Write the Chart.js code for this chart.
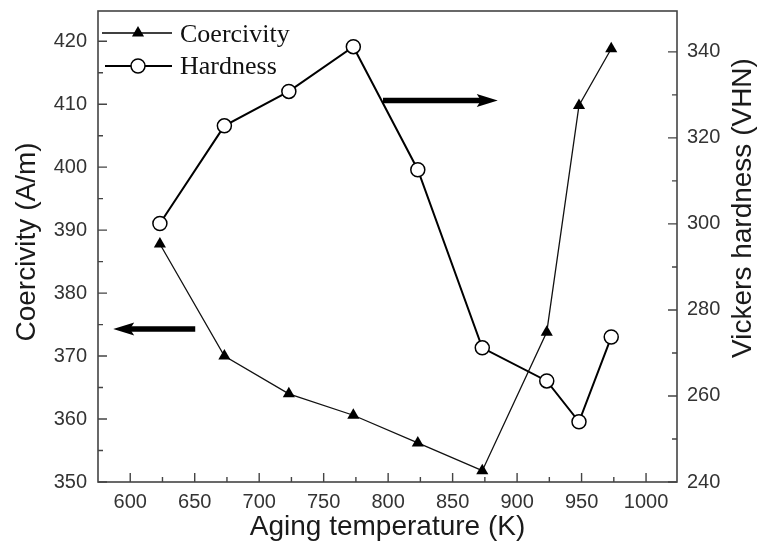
<!DOCTYPE html>
<html><head><meta charset="utf-8">
<script src="https://cdn.jsdelivr.net/npm/chart.js@4/dist/chart.umd.min.js"></script>
<style>html,body{margin:0;padding:0;background:#fff}#wrap{width:763px;height:548px}</style>
</head><body><div id="wrap"><canvas id="c" width="763" height="548"></canvas></div>
<script>
const temperatures = [623, 673, 723, 773, 823, 873, 923, 948, 973];
const coercivity = [387.8, 370.0, 364.0, 360.6, 356.2, 351.8, 373.8, 409.8, 418.8];
const hardness = [300.1, 322.8, 330.8, 341.2, 312.6, 271.2, 263.5, 254.0, 273.7];
const xTicks = [600, 650, 700, 750, 800, 850, 900, 950, 1000];
const leftTicks = [350, 360, 370, 380, 390, 400, 410, 420];
const rightTicks = [240, 260, 280, 300, 320, 340];
const xTitle = 'Aging temperature (K)';
const leftTitle = 'Coercivity (A/m)';
const rightTitle = 'Vickers hardness (VHN)';
const seriesNames = ['Coercivity', 'Hardness'];

const SANS = "'Liberation Sans', Arial, sans-serif";
const SERIF = "'Liberation Serif', 'Times New Roman', serif";

const decor = {
  id: 'decor',
  afterDraw(chart) {
    const ctx = chart.ctx;
    const a = chart.chartArea;
    const x = chart.scales.x, yl = chart.scales.y, yr = chart.scales.y2;
    ctx.save();
    ctx.strokeStyle = '#444';
    ctx.lineWidth = 1.6;
    ctx.strokeRect(a.left, a.top, a.right - a.left, a.bottom - a.top);
    ctx.lineWidth = 1.4;
    ctx.beginPath();
    const maj = 9, min = 5;
    xTicks.forEach(v => {
      const px = x.getPixelForValue(v);
      ctx.moveTo(px, a.bottom); ctx.lineTo(px, a.bottom - maj);
      if (v + 25 < x.max) { const m = x.getPixelForValue(v + 25); ctx.moveTo(m, a.bottom); ctx.lineTo(m, a.bottom - min); }
    });
    leftTicks.forEach(v => {
      const py = yl.getPixelForValue(v);
      ctx.moveTo(a.left, py); ctx.lineTo(a.left + maj, py);
      if (v + 5 < yl.max) { const m = yl.getPixelForValue(v + 5); ctx.moveTo(a.left, m); ctx.lineTo(a.left + min, m); }
    });
    rightTicks.forEach(v => {
      const py = yr.getPixelForValue(v);
      ctx.moveTo(a.right, py); ctx.lineTo(a.right - maj, py);
      if (v + 10 < yr.max) { const m = yr.getPixelForValue(v + 10); ctx.moveTo(a.right, m); ctx.lineTo(a.right - min, m); }
    });
    ctx.stroke();

    function arrow(x1, x2, yPix) {
      const dir = Math.sign(x2 - x1);
      const headLen = 21, headHalf = 6.5;
      ctx.strokeStyle = '#000';
      ctx.fillStyle = '#000';
      ctx.lineWidth = 5.5;
      ctx.beginPath();
      ctx.moveTo(x1, yPix);
      ctx.lineTo(x2 - dir * headLen * 0.6, yPix);
      ctx.stroke();
      ctx.beginPath();
      ctx.moveTo(x2, yPix);
      ctx.lineTo(x2 - dir * headLen, yPix - headHalf);
      ctx.lineTo(x2 - dir * headLen * 0.8, yPix);
      ctx.lineTo(x2 - dir * headLen, yPix + headHalf);
      ctx.closePath();
      ctx.fill();
    }
    arrow(x.getPixelForValue(650.4), x.getPixelForValue(586.8), yl.getPixelForValue(374.3));
    arrow(x.getPixelForValue(796), x.getPixelForValue(885), yl.getPixelForValue(410.6));

    ctx.strokeStyle = '#000';
    ctx.lineWidth = 1.4;
    ctx.beginPath(); ctx.moveTo(a.left + 4, 33); ctx.lineTo(a.left + 74, 33); ctx.stroke();
    ctx.fillStyle = '#000';
    ctx.beginPath();
    const tx = a.left + 40, ty = 33, r = 7;
    ctx.moveTo(tx, ty - r); ctx.lineTo(tx + r * 0.866, ty + r / 2); ctx.lineTo(tx - r * 0.866, ty + r / 2); ctx.closePath(); ctx.fill();
    ctx.lineWidth = 2;
    ctx.beginPath(); ctx.moveTo(a.left + 7, 66); ctx.lineTo(a.left + 74, 66); ctx.stroke();
    ctx.beginPath(); ctx.arc(a.left + 40, 66, 7, 0, Math.PI * 2);
    ctx.fillStyle = '#fff'; ctx.fill(); ctx.lineWidth = 1.5; ctx.stroke();
    ctx.fillStyle = '#111';
    ctx.font = '26px ' + SERIF;
    ctx.textAlign = 'left'; ctx.textBaseline = 'alphabetic';
    ctx.fillText(seriesNames[0], a.left + 82, 42);
    ctx.fillText(seriesNames[1], a.left + 82, 74);

    ctx.fillStyle = '#1a1a1a';
    ctx.font = '28px ' + SANS;
    ctx.textAlign = 'center'; ctx.textBaseline = 'middle';
    ctx.fillText(xTitle, (a.left + a.right) / 2, 527);
    ctx.save(); ctx.translate(27, 242); ctx.rotate(-Math.PI / 2); ctx.fillText(leftTitle, 0, 0); ctx.restore();
    ctx.save(); ctx.translate(743, 208); ctx.rotate(-Math.PI / 2); ctx.fillText(rightTitle, 0, 0); ctx.restore();
    ctx.restore();
  }
};

const noPad = s => { s.paddingTop = 0; s.paddingBottom = 0; };

new Chart(document.getElementById('c'), {
  type: 'line',
  data: {
    datasets: [
      {
        label: seriesNames[0],
        data: temperatures.map((t, i) => ({ x: t, y: coercivity[i] })),
        yAxisID: 'y',
        borderColor: '#111', borderWidth: 1.3,
        pointStyle: 'triangle', pointRadius: 7, pointBackgroundColor: '#000', pointBorderColor: '#000', pointBorderWidth: 0,
        tension: 0, fill: false
      },
      {
        label: seriesNames[1],
        data: temperatures.map((t, i) => ({ x: t, y: hardness[i] })),
        yAxisID: 'y2',
        borderColor: '#000', borderWidth: 2,
        pointStyle: 'circle', pointRadius: 7, pointBackgroundColor: '#fff', pointBorderColor: '#000', pointBorderWidth: 1.5,
        tension: 0, fill: false
      }
    ]
  },
  options: {
    responsive: false, animation: false,
    layout: { padding: { top: 11, left: 0, right: 0, bottom: 0 } },
    plugins: { legend: { display: false }, tooltip: { enabled: false } },
    scales: {
      x: {
        type: 'linear', min: 575, max: 1024,
        afterBuildTicks: s => { s.ticks = xTicks.map(v => ({ value: v })); },
        afterFit: s => { s.height = 66; s.paddingLeft = 0; s.paddingRight = 0; },
        grid: { display: false }, border: { display: false },
        ticks: { font: { family: SANS, size: 20 }, color: '#333', padding: 0, maxRotation: 0, callback: v => String(v) }
      },
      y: {
        position: 'left', min: 350, max: 424.8,
        afterBuildTicks: s => { s.ticks = leftTicks.map(v => ({ value: v })); },
        afterFit: s => { s.width = 98; noPad(s); },
        grid: { display: false }, border: { display: false },
        ticks: { font: { family: SANS, size: 20 }, color: '#333', padding: 3, callback: v => String(v) }
      },
      y2: {
        position: 'right', min: 240, max: 349.5,
        afterBuildTicks: s => { s.ticks = rightTicks.map(v => ({ value: v })); },
        afterFit: s => { s.width = 86; noPad(s); },
        grid: { display: false }, border: { display: false },
        ticks: { font: { family: SANS, size: 20 }, color: '#333', padding: 2, callback: v => String(v) }
      }
    }
  },
  plugins: [decor]
});
</script>
</body></html>
